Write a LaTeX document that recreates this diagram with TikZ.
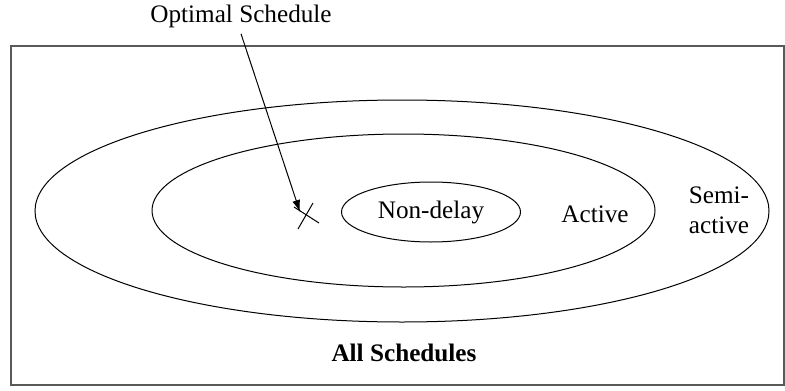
\documentclass[tikz,border=0pt]{standalone}
\usepackage{fontspec}
\setmainfont{Liberation Serif}
\usetikzlibrary{shapes.geometric,arrows.meta,calc}

\begin{document}
\begin{tikzpicture}[x=0.5pt,y=-0.5pt,
	every node/.style={align=center, font=\fontsize{12.6}{15}\selectfont},
	set/.style={shape=ellipse, draw, line width=0.5pt, inner sep=0pt},
	frame/.style={draw, line width=0.6pt, gray!70!black}]
	\useasboundingbox (0,0) rectangle (785,390);
	\draw[frame] (11,46) rectangle (784,385);
	\node[set, minimum width=367pt, minimum height=111pt] (semiactive) at (402,211) {};
	\node[set, minimum width=251.5pt, minimum height=76.5pt] (active) at (403.5,210.5) {};
	\node[set, minimum width=89.5pt, minimum height=30pt] (nondelay) at (431,212) {Non-delay};
	\node (active label) at (595,214) {Active};
	\node (semiactive label) at (719,210) {Semi-\\active};
	\node (all label) at (404,353) {\bfseries All Schedules};
	\node[inner sep=3pt] (opt label) at (241,16) {Optimal Schedule};
	% the optimal schedule
	\coordinate (opt) at (305,216);
	\draw[line width=0.5pt] ($(opt)+(8,-13)$) -- ($(opt)+(-7,13)$);
	\draw[line width=0.5pt] ($(opt)+(-11,-9)$) -- ($(opt)+(14,7)$);
	\coordinate (opt tip) at (300,212);
	\draw[line width=0.5pt, -{Latex[length=6pt,width=4pt]}] (opt label.south) -- (opt tip);
\end{tikzpicture}
\end{document}
